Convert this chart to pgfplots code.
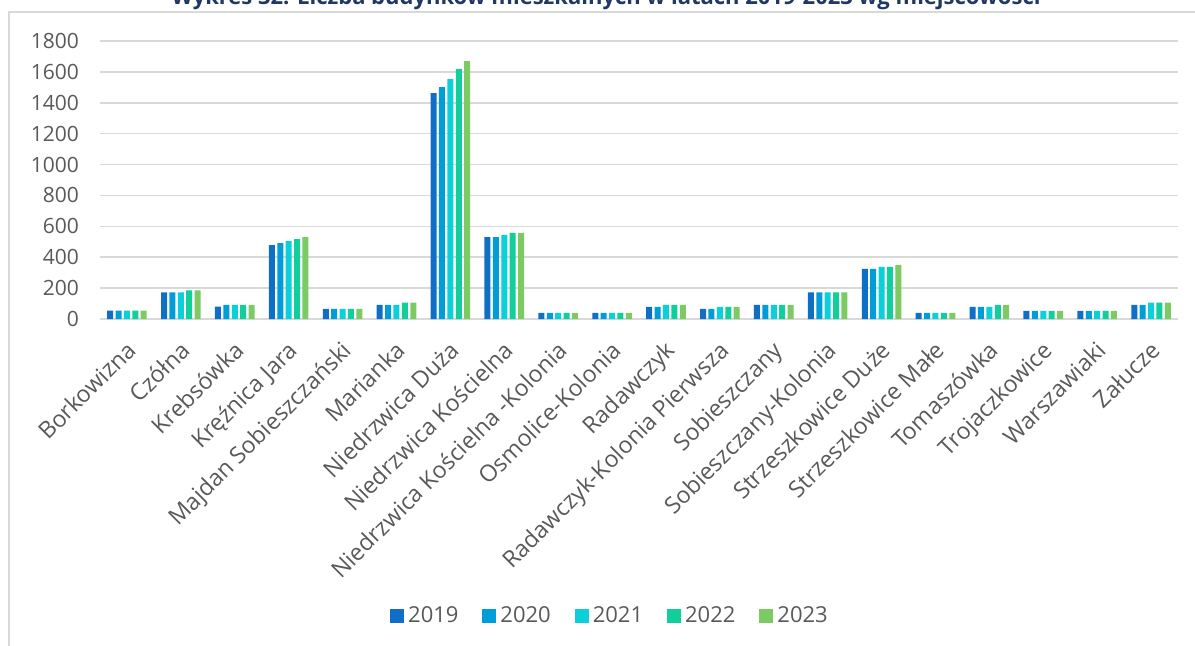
\documentclass[border=0pt]{standalone}
\usepackage{pgfplots}
\usepackage{pgfplotstable}
\pgfplotsset{compat=1.18}
\usepackage{fontspec}
\setmainfont{Open Sans}

\definecolor{c2019}{HTML}{0F6FC6}
\definecolor{c2020}{HTML}{009DD9}
\definecolor{c2021}{HTML}{0BD0D9}
\definecolor{c2022}{HTML}{10CF9B}
\definecolor{c2023}{HTML}{7CCA62}
\definecolor{txtgray}{HTML}{595959}
\definecolor{gridgray}{HTML}{D9D9D9}
\definecolor{titleblue}{HTML}{1F3864}

% liczba budynkow mieszkalnych
\pgfplotstableread{
x  y2019 y2020 y2021 y2022 y2023
0  55    55    55    55    55
1  172   172   172   185   185
2  80    92    92    92    92
3  478   491   505   518   531
4  65    65    65    65    65
5  92    92    92    106   106
6  1463  1502  1554  1619  1670
7  531   531   544   557   557
8  39    39    39    39    39
9  39    39    39    39    39
10 78    78    91    91    91
11 65    65    78    78    78
12 91    91    91    91    91
13 172   172   172   172   172
14 325   325   338   338   351
15 40    40    40    40    40
16 79    79    79    92    92
17 53    53    53    53    53
18 53    53    53    53    53
19 92    92    106   106   106
}\budynki

\begin{document}
\begin{tikzpicture}
\useasboundingbox (0,0) rectangle (597.5pt,-322.5pt);
\draw[gridgray, line width=0.75pt] (4.5pt,-6pt) rectangle (612pt,-340pt);
\node[anchor=base, font=\bfseries\fontsize{11}{13}\selectfont, text=titleblue, inner sep=0pt]
  at (303pt,-2pt) {Wykres 32. Liczba budynków mieszkalnych w latach 2019-2023 wg miejscowości};
\begin{axis}[
  at={(50pt,-159.5pt)}, anchor=south west,
  scale only axis, width=539pt, height=139pt,
  ybar=1.2pt, bar width=3pt,
  xmin=-0.5, xmax=19.5, ymin=0, ymax=1800,
  ytick={0,200,...,1800},
  xtick=data,
  xticklabels={Borkowizna,Czółna,Krebsówka,Kręźnica Jara,Majdan Sobieszczański,Marianka,Niedrzwica Duża,Niedrzwica Kościelna,Niedrzwica Kościelna -Kolonia,Osmolice-Kolonia,Radawczyk,Radawczyk-Kolonia Pierwsza,Sobieszczany,Sobieszczany-Kolonia,Strzeszkowice Duże,Strzeszkowice Małe,Tomaszówka,Trojaczkowice,Warszawiaki,Załucze},
  x tick label style={rotate=45, anchor=north east, font=\fontsize{11.6}{13}\selectfont, text=txtgray, yshift=-3pt, xshift=-4.5pt},
  y tick label style={font=\fontsize{10.5}{12}\selectfont, text=txtgray, xshift=-7pt},
  /pgf/number format/assume math mode=true,
  /pgf/number format/1000 sep={},
  major tick length=0pt,
  ymajorgrids, grid style={gridgray, line width=0.75pt},
  axis x line*=bottom, axis y line*=left,
  x axis line style={gridgray, line width=1pt},
  y axis line style={draw=none},
  legend style={at={(0.474,-1.068)}, anchor=center, draw=none, legend columns=-1,
    font=\fontsize{11}{13}\selectfont, text=txtgray,
    /tikz/every even column/.append style={column sep=10pt}},
  legend image code/.code={\fill[#1] (0pt,-3.5pt) rectangle (7pt,3.5pt);},
]
\addplot[fill=c2019, draw=none] table[x=x, y=y2019] {\budynki};
\addplot[fill=c2020, draw=none] table[x=x, y=y2020] {\budynki};
\addplot[fill=c2021, draw=none] table[x=x, y=y2021] {\budynki};
\addplot[fill=c2022, draw=none] table[x=x, y=y2022] {\budynki};
\addplot[fill=c2023, draw=none] table[x=x, y=y2023] {\budynki};
\legend{2019,2020,2021,2022,2023}
\end{axis}
\end{tikzpicture}
\end{document}
